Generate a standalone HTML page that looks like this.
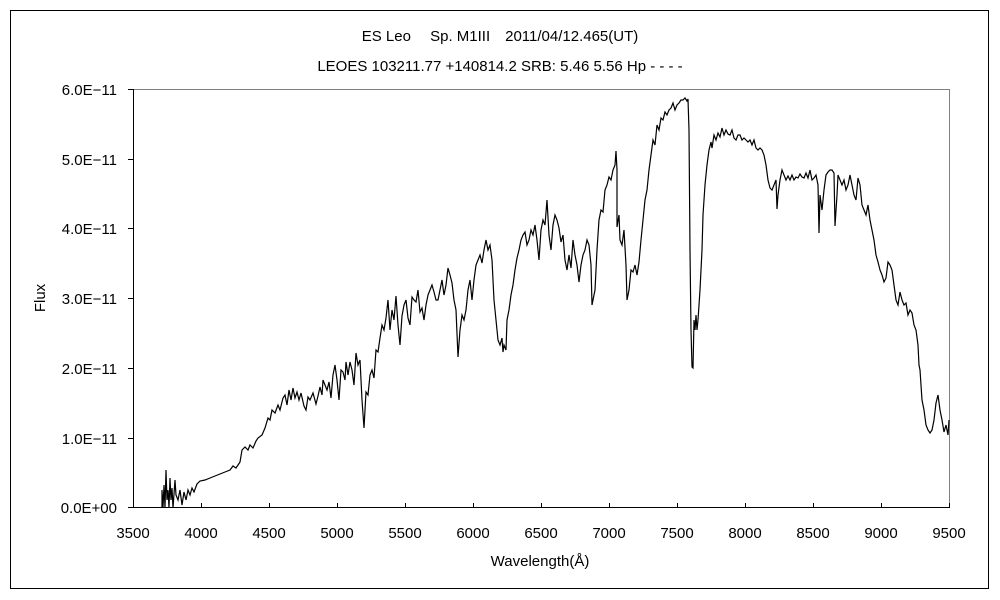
<!DOCTYPE html>
<html><head><meta charset="utf-8"><style>
html,body{margin:0;padding:0;background:#fff;}
svg{display:block;font-family:"Liberation Sans","Noto Sans CJK JP",sans-serif;}
</style></head><body>
<svg width="1000" height="600" viewBox="0 0 1000 600" xmlns="http://www.w3.org/2000/svg">
<rect x="0" y="0" width="1000" height="600" fill="#fff"/>
<rect x="10.5" y="10.5" width="978" height="578" fill="none" stroke="#000" stroke-width="1"/>
<g font-size="15" fill="#000" text-anchor="middle">
<text x="500" y="41">ES Leo　 Sp. M1III　2011/04/12.465(UT)</text>
<text x="500" y="71">LEOES 103211.77 +140814.2  SRB: 5.46 5.56  Hp - - - -</text>
</g>
<line x1="133" y1="89.5" x2="949" y2="89.5" stroke="#808080"/>
<line x1="949.5" y1="89" x2="949.5" y2="507" stroke="#808080"/>
<line x1="133.5" y1="89" x2="133.5" y2="508" stroke="#000"/>
<line x1="133" y1="507.5" x2="950" y2="507.5" stroke="#000"/>
<g stroke="#000">
<line x1="128" y1="89.5" x2="133" y2="89.5"/><line x1="128" y1="159.5" x2="133" y2="159.5"/><line x1="128" y1="228.5" x2="133" y2="228.5"/><line x1="128" y1="298.5" x2="133" y2="298.5"/><line x1="128" y1="368.5" x2="133" y2="368.5"/><line x1="128" y1="438.5" x2="133" y2="438.5"/><line x1="128" y1="507.5" x2="133" y2="507.5"/>
<line x1="201.5" y1="503" x2="201.5" y2="507"/><line x1="269.5" y1="503" x2="269.5" y2="507"/><line x1="337.5" y1="503" x2="337.5" y2="507"/><line x1="405.5" y1="503" x2="405.5" y2="507"/><line x1="473.5" y1="503" x2="473.5" y2="507"/><line x1="541.5" y1="503" x2="541.5" y2="507"/><line x1="609.5" y1="503" x2="609.5" y2="507"/><line x1="677.5" y1="503" x2="677.5" y2="507"/><line x1="745.5" y1="503" x2="745.5" y2="507"/><line x1="813.5" y1="503" x2="813.5" y2="507"/><line x1="881.5" y1="503" x2="881.5" y2="507"/><line x1="949.5" y1="503" x2="949.5" y2="507"/>
</g>
<g font-size="15" fill="#000" text-anchor="end">
<text x="117" y="95">6.0E−11</text><text x="117" y="165">5.0E−11</text><text x="117" y="234">4.0E−11</text><text x="117" y="304">3.0E−11</text><text x="117" y="374">2.0E−11</text><text x="117" y="444">1.0E−11</text><text x="117" y="513">0.0E+00</text>
</g>
<g font-size="15" fill="#000" text-anchor="middle">
<text x="133" y="538">3500</text><text x="201" y="538">4000</text><text x="269" y="538">4500</text><text x="337" y="538">5000</text><text x="405" y="538">5500</text><text x="473" y="538">6000</text><text x="541" y="538">6500</text><text x="609" y="538">7000</text><text x="677" y="538">7500</text><text x="745" y="538">8000</text><text x="813" y="538">8500</text><text x="881" y="538">9000</text><text x="949" y="538">9500</text>
<text x="540" y="566">Wavelength(Å)</text>
<text x="0" y="0" transform="translate(45,298) rotate(-90)">Flux</text>
</g>
<polyline fill="none" stroke="#000" stroke-width="1.2" points="162,508 162,490 163,508 164,485 165,508 166,470 167,500 168,490 169,508 170,478 171,500 172,488 173,508 175,480 176,495 178,500 180,490 182,505 184,492 186,500 188,490 190,495 192,488 194,492 197,484 200,481 205,480 210,478 215,476 220,474 225,472 230,470 233,466 236,468 240,462 242,450 245,447 248,450 250,445 253,448 256,441 258,438 262,435 265,428 268,418 270,420 272,410 275,413 278,405 280,410 283,398 285,395 287,405 289,390 291,400 293,388 295,398 297,392 299,400 301,393 304,406 306,410 308,397 310,400 313,393 316,404 318,396 320,387 322,395 323,380 325,385 327,390 329,382 331,398 333,375 335,365 337,380 339,400 341,370 343,372 345,380 346,362 348,375 350,362 352,370 354,385 356,353 358,365 360,360 362,400 364,428 366,392 368,395 370,375 372,370 374,378 376,350 378,352 380,338 382,325 384,330 386,318 388,300 390,330 392,310 394,320 396,296 398,325 400,345 402,316 404,305 406,300 408,318 410,325 412,297 414,300 416,302 418,290 420,312 422,308 424,320 426,305 428,295 430,290 432,285 434,292 436,300 438,300 440,290 442,280 444,295 446,285 448,268 450,275 452,283 454,300 456,310 458,357 460,330 462,315 464,320 466,310 468,290 470,280 472,300 474,280 476,265 478,260 480,255 482,263 484,250 486,240 488,250 490,245 492,260 494,300 496,320 498,340 500,345 502,338 503,352 504,345 506,350 507,320 509,310 511,295 513,285 515,270 517,258 519,250 521,240 523,235 525,232 527,245 529,240 531,230 533,235 535,225 537,240 539,260 541,230 543,220 545,225 547,200 549,235 551,250 553,225 555,215 557,220 559,228 561,242 563,235 565,260 567,270 569,255 571,268 573,240 575,255 577,265 579,282 581,265 583,255 585,250 587,240 589,245 591,265 592,305 595,290 597,250 599,220 601,210 603,212 605,190 607,185 609,177 611,180 613,170 615,165 616,151 617,170 617,227 619,215 620,240 622,245 624,230 626,265 627,300 629,290 631,270 633,272 635,265 637,275 639,262 641,240 643,220 645,200 647,190 649,170 651,155 653,140 655,145 657,125 659,130 661,118 663,120 665,112 667,115 669,110 671,108 673,103 675,110 677,105 679,103 681,100 683,100 685,98 687,101 688,99 689,130 690,250 691,330 692,367 693,368 694,320 695,330 696,315 697,330 698,320 700,290 702,250 703,215 705,185 707,165 709,150 711,142 712,148 714,135 716,140 718,133 720,137 722,128 724,135 726,130 728,134 730,135 732,130 734,138 736,140 738,135 740,135 742,140 744,138 746,140 748,142 750,140 752,145 754,140 756,148 758,150 760,148 762,150 764,155 766,165 768,180 770,188 772,190 774,185 776,180 777,209 778,195 780,180 782,170 784,175 786,180 788,176 790,180 792,175 794,180 796,177 798,178 800,174 802,177 804,178 806,173 808,178 810,170 812,180 814,178 816,175 818,185 819,233 820,195 822,210 824,190 826,175 828,172 830,170 832,170 834,173 835,226 837,195 838,175 840,180 842,185 844,180 846,190 848,185 850,175 852,185 854,195 856,200 858,178 860,185 862,205 864,210 866,215 868,205 870,220 872,230 874,240 876,255 878,262 880,270 882,275 884,282 886,278 888,262 890,265 892,270 894,285 896,300 898,305 900,292 902,300 904,305 906,303 908,315 910,310 912,313 914,325 916,330 918,345 919,365 920,370 922,400 924,410 926,425 928,430 930,433 932,430 934,420 936,403 938,395 940,410 942,420 944,432 946,425 948,435 949,420"/>
</svg>
</body></html>
